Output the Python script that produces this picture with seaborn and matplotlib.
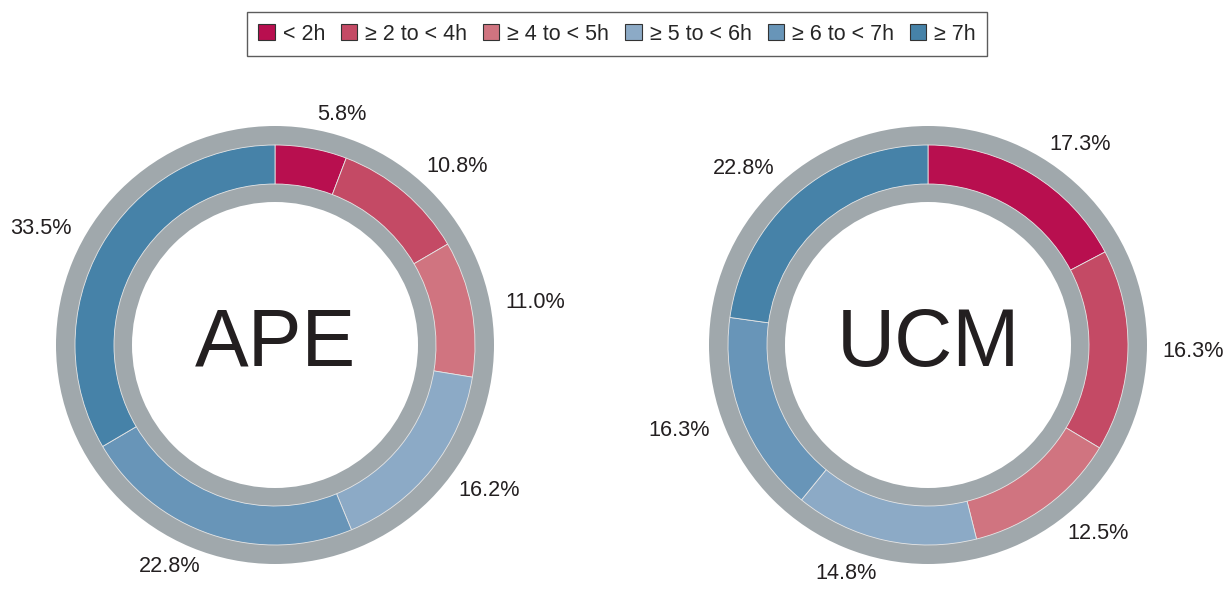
import matplotlib
matplotlib.use("Agg")
import matplotlib.pyplot as plt
import matplotlib.patches as mpatches
import seaborn as sns

categories = ["< 2h", "\u2265 2 to < 4h", "\u2265 4 to < 5h", "\u2265 5 to < 6h", "\u2265 6 to < 7h", "\u2265 7h"]
ape_values = [5.8, 10.8, 11.0, 16.2, 22.8, 33.5]
ucm_values = [17.3, 16.3, 12.5, 14.8, 16.3, 22.8]
groups = ["APE", "UCM"]
colors = ["#B80F4F", "#C44A65", "#D07480", "#8CAAC6", "#6895B8", "#4682A8"]
grey = "#A0A8AC"

sns.set_theme(style="white")
plt.rcParams['font.family'] = ['Liberation Sans', 'DejaVu Sans']

fig = plt.figure(figsize=(12.24, 5.92), dpi=100)
ax = fig.add_axes([0, 0, 1, 1])
ax.set_xlim(0, 1224)
ax.set_ylim(0, 592)
ax.set_aspect('equal')
ax.axis('off')

centers = [(275, 247), (928, 247)]
for name, vals, c in zip(groups, [ape_values, ucm_values], centers):
    # grey background ring
    ax.pie([1], colors=[grey], radius=219, center=c, startangle=90,
           wedgeprops=dict(width=76, edgecolor='none'))
    labels = [f"{v:.1f}%" for v in vals]
    wedges, texts = ax.pie(vals, colors=colors, radius=200, center=c, startangle=90,
                           counterclock=False, labels=labels, labeldistance=1.17,
                           wedgeprops=dict(width=39, edgecolor='#E6E6E6', linewidth=0.6),
                           textprops=dict(fontsize=15.6, color='#231F20'))
    for t in texts:
        tx, ty = t.get_position()
        t.set_ha('left' if tx >= c[0] else 'right')
        t.set_va('center')
    ax.text(c[0], c[1], name, ha='center', va='center', fontsize=58, color='#231F20')

ax.set_xlim(0, 1224)
ax.set_ylim(0, 592)

handles = [mpatches.Patch(facecolor=col, edgecolor='#333333', linewidth=0.8, label=cat)
           for col, cat in zip(colors, categories)]
leg = fig.legend(handles=handles, loc='center', bbox_to_anchor=(617/1224, 1 - 34/592),
                 ncol=6, fontsize=15.5, frameon=True, fancybox=False,
                 handlelength=0.75, handleheight=0.7, handletextpad=0.37, columnspacing=0.75,
                 borderpad=0.55, borderaxespad=0)
leg.get_frame().set_edgecolor('#333333')
leg.get_frame().set_linewidth(1.0)

fig.savefig("out.png", dpi=100, facecolor='white')
